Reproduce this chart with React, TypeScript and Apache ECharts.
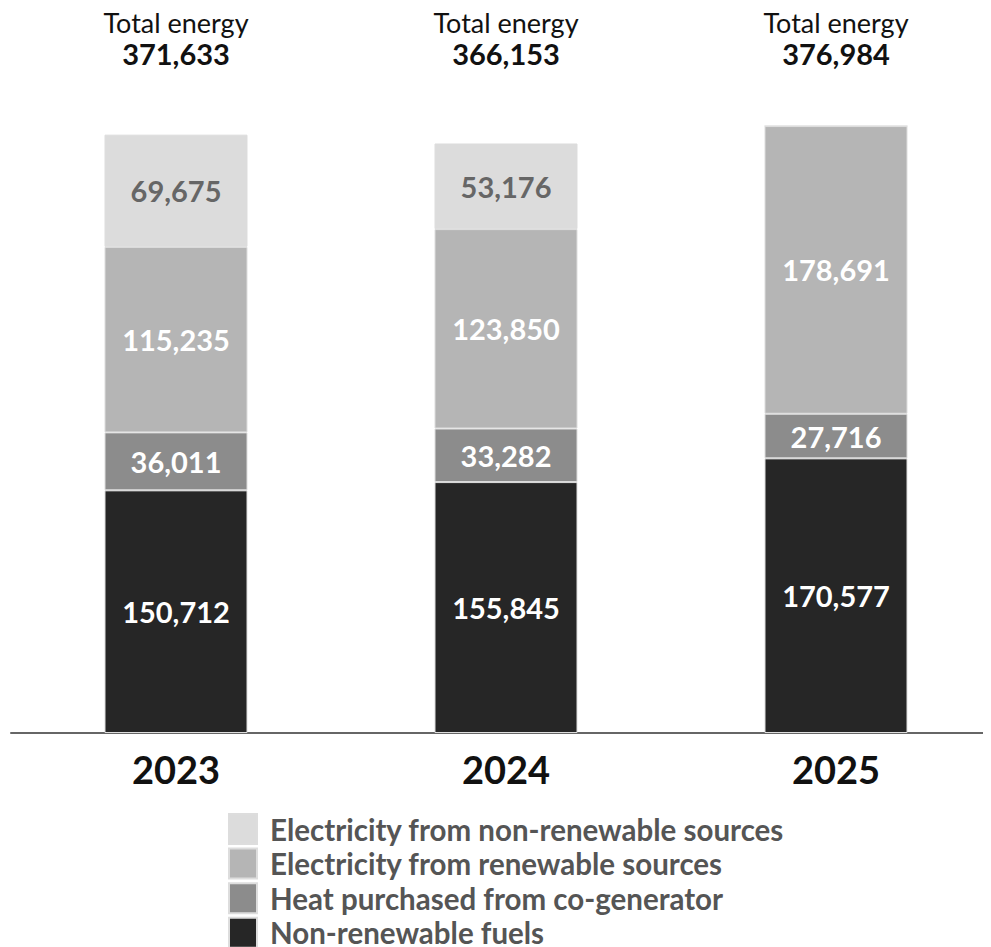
import React, { useEffect, useRef } from "react";
import * as echarts from "echarts";

const years = ["2023", "2024", "2025"];
const nonRenewableFuels = [150712, 155845, 170577];
const heatCogenerator = [36011, 33282, 27716];
const elecRenewable = [115235, 123850, 178691];
const elecNonRenewable = [69675, 53176, 0];

const seriesNames = [
  "Non-renewable fuels",
  "Heat purchased from co-generator",
  "Electricity from renewable sources",
  "Electricity from non-renewable sources",
];
const seriesColors = ["#262626", "#8c8c8c", "#b5b5b5", "#dcdcdc"];
const labelColors = ["#ffffff", "#ffffff", "#ffffff", "#666666"];

const fmt = (v: number) => v.toLocaleString("en-US");

export default function App() {
  const ref = useRef<HTMLDivElement>(null);
  useEffect(() => {
    if (!ref.current) return;
    const chart = echarts.init(ref.current, undefined, { renderer: "svg" });
    const allData = [nonRenewableFuels, heatCogenerator, elecRenewable, elecNonRenewable];
    const totals = years.map((_, i) => allData.reduce((s, arr) => s + arr[i], 0));
    const font = "Lato, 'Noto Sans', sans-serif";
    chart.setOption({
      animation: false,
      textStyle: { fontFamily: font },
      grid: {
        left: 3,
        width: 990,
        top: 89,
        bottom: 227,
        containLabel: false,
        outerBoundsMode: "none",
      },
      legend: {
        orient: "vertical",
        left: 215,
        top: 808,
        height: 200,
        itemWidth: 28,
        itemHeight: 30,
        itemGap: 2.6,
        icon: "rect",
        data: [...seriesNames].reverse(),
        textStyle: {
          fontFamily: font,
          fontSize: 29.5,
          lineHeight: 30,
          fontWeight: "bold",
          color: "#555555",
          padding: [0, 0, 0, 8],
        },
        selectedMode: false,
      },
      xAxis: [
        {
          type: "category",
          data: years,
          position: "bottom",
          axisLine: { lineStyle: { color: "#666666", width: 2 } },
          axisTick: { alignWithLabel: true, length: 10, lineStyle: { color: "#777777", width: 2 } },
          axisLabel: {
            fontFamily: font,
            fontSize: 38,
            fontWeight: "bold",
            color: "#111111",
            margin: 17,
          },
        },
        {
          type: "category",
          data: years.map((_, i) => `{a|Total energy}\n{b|${fmt(totals[i])}}`),
          position: "top",
          axisLine: { show: false },
          axisTick: { show: false },
          axisLabel: {
            fontFamily: font,
            fontSize: 27,
            color: "#111111",
            margin: 18.5,
            rich: {
              a: { fontFamily: font, fontSize: 27, color: "#111111", lineHeight: 27 },
              b: { fontFamily: font, fontSize: 29, fontWeight: "bold", color: "#111111", lineHeight: 35 },
            },
          },
        },
      ],
      yAxis: {
        type: "value",
        min: 0,
        max: 400000,
        show: false,
        splitLine: { show: false },
      },
      series: allData.map((arr, k) => ({
        name: seriesNames[k],
        type: "bar",
        stack: "total",
        barWidth: 143,
        data: arr,
        itemStyle: { color: seriesColors[k], borderColor: "#dddddd", borderWidth: 1 },
        label: {
          show: true,
          position: "inside",
          fontFamily: font,
          fontSize: 29,
          fontWeight: "bold",
          color: labelColors[k],
          formatter: (p: any) => (p.value ? fmt(p.value) : ""),
        },
      })),
    });
    return () => chart.dispose();
  }, []);
  return <div ref={ref} style={{ width: 983, height: 960, marginTop: -8 }} />;
}
